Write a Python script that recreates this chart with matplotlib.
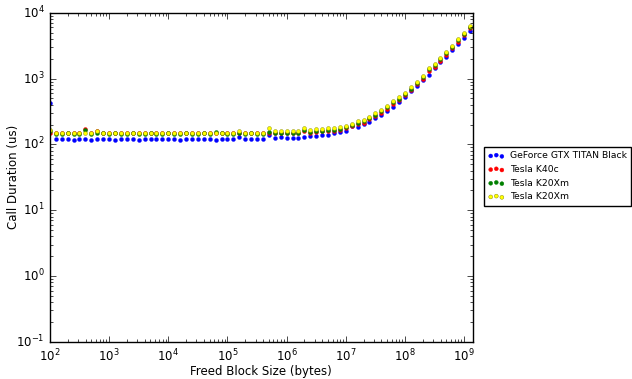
import matplotlib
matplotlib.use('Agg')
import matplotlib.pyplot as plt

plt.style.use('classic')
plt.rcParams['font.size'] = 8.5

# Freed block sizes (bytes)
sizes = [100, 126, 158, 200, 251, 316, 398, 501, 631, 794,
         1000, 1259, 1585, 1995, 2512, 3162, 3981, 5012, 6310, 7943,
         10000, 12589, 15849, 19953, 25119, 31623, 39811, 50119, 63096, 79433,
         100000, 125893, 158489, 199526, 251189, 316228, 398107, 501187, 630957, 794328,
         1000000, 1258925, 1584893, 1995262, 2511886, 3162278, 3981072, 5011872, 6309573, 7943282,
         10000000, 12589254, 15848932, 19952623, 25118864, 31622777, 39810717, 50118723, 63095734, 79432823,
         100000000, 125892541, 158489319, 199526231, 251188643, 316227766, 398107171, 501187234, 630957344, 794328235,
         1000000000, 1258925412]

# call durations (us)
titan = [430, 120, 121, 122, 117, 120, 123, 119, 121, 120,
         122, 119, 121, 120, 123, 119, 120, 122, 120, 121,
         120, 121, 119, 121, 120, 120, 121, 120, 119, 121,
         120, 120, 132, 122, 122, 122, 121, 138, 127, 128,
         127, 127, 127, 131, 134, 134, 137, 141, 147, 155,
         163, 190, 185, 203, 223, 254, 282, 328, 377, 444,
         529, 645, 787, 949, 1153, 1442, 1779, 2168, 2711, 3380,
         4216, 5383]
k40c = [150, 148, 147, 148, 147, 148, 173, 152, 160, 148,
        148, 147, 148, 148, 147, 148, 148, 147, 148, 148,
        147, 148, 148, 147, 148, 148, 147, 148, 148, 147,
        148, 148, 150, 148, 147, 148, 148, 150, 149, 148,
        150, 148, 148, 158, 152, 155, 158, 160, 163, 167,
        176, 188, 203, 214, 240, 270, 305, 350, 415, 475,
        560, 675, 825, 1000, 1300, 1530, 1870, 2300, 2880, 3650,
        4560, 5900]
k20xm_a = [160, 146, 146, 147, 146, 146, 165, 146, 152, 147,
           146, 147, 146, 146, 147, 146, 146, 147, 146, 146,
           147, 146, 146, 147, 146, 146, 147, 146, 156, 147,
           146, 146, 148, 146, 147, 146, 146, 153, 150, 152,
           152, 150, 150, 165, 156, 160, 163, 165, 168, 172,
           182, 195, 212, 224, 250, 282, 320, 366, 437, 498,
           586, 705, 861, 1050, 1400, 1610, 1960, 2420, 3030, 3830,
           4780, 6200]
k20xm_b = [167, 151, 151, 152, 151, 151, 152, 151, 161, 151,
           151, 152, 151, 151, 152, 151, 151, 152, 151, 151,
           152, 151, 151, 152, 151, 151, 152, 151, 151, 152,
           151, 151, 163, 152, 151, 151, 152, 175, 160, 161,
           161, 161, 161, 181, 165, 169, 173, 175, 179, 183,
           194, 208, 226, 237, 266, 299, 339, 386, 460, 523,
           615, 743, 903, 1103, 1459, 1679, 2047, 2524, 3150, 3983,
           4911, 6412]

fig = plt.figure(figsize=(6.32, 3.79), dpi=100, facecolor='white')
ax = fig.add_axes([0.079, 0.098, 0.669, 0.868])

ax.scatter(sizes, titan, s=8, c='b', edgecolors='b', linewidths=0.3, label='GeForce GTX TITAN Black')
ax.scatter(sizes, k40c, s=8, c='r', edgecolors='r', linewidths=0.3, label='Tesla K40c')
ax.scatter(sizes, k20xm_a, s=8, c='g', edgecolors='g', linewidths=0.3, label='Tesla K20Xm')
ax.scatter(sizes, k20xm_b, s=8, c='yellow', edgecolors='#808000', linewidths=0.3, label='Tesla K20Xm')

ax.set_xscale('log')
ax.set_yscale('log')
ax.set_xlim(100, 1.4e9)
ax.set_ylim(0.1, 10000)
ax.tick_params(labelsize=8.5)
ax.set_xlabel('Freed Block Size (bytes)', labelpad=1)
ax.set_ylabel('Call Duration (us)')
ax.yaxis.set_label_coords(-0.07, 0.5)

ax.legend(loc='center left', bbox_to_anchor=(1.015, 0.503), scatterpoints=3,
          fontsize=6.7, frameon=True, borderpad=0.45, labelspacing=0.5,
          handlelength=1.8, handletextpad=0.6)

fig.savefig('out.png', dpi=100, facecolor='white')
